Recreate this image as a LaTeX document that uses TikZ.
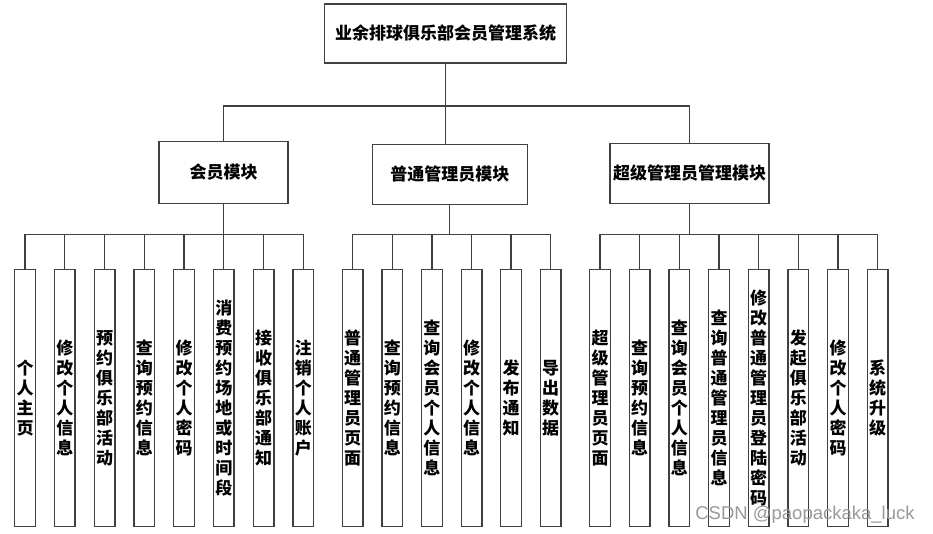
\documentclass[tikz,border=0pt]{standalone}
\usepackage{fontspec}
\setmainfont{Noto Sans CJK SC}
\newfontfamily\markfont{Liberation Sans}
\usetikzlibrary{positioning}

\tikzset{
  box/.style={draw=black!75, line width=1.3pt, align=center, inner sep=0pt,
    font=\fontsize{17}{20}\selectfont\bfseries},
  leaf/.style={box, minimum width=20.7pt, minimum height=257.4pt},
  link/.style={draw=black!75, line width=1.3pt}
}

\begin{document}
\begin{tikzpicture}[x=1pt,y=-1pt]
\useasboundingbox (0,0) rectangle (933,534);
% top levels
\node[box, minimum width=242.4pt, minimum height=59pt] (root) at (445.5,33.5) {业余排球俱乐部会员管理系统};
\node[box, minimum width=129pt, minimum height=61.6pt] (vip) at (223.5,172.5) {会员模块};
\node[box, minimum width=155pt, minimum height=60pt] (admin) at (449.8,174.3) {普通管理员模块};
\node[box, minimum width=159pt, minimum height=60pt] (super) at (689.5,173.3) {超级管理员管理模块};
\coordinate (topbus) at (445.5,106);
\coordinate (leafbus) at (0,234.5);
\draw[link] (root) -- (topbus);
\draw[link] (vip.north) |- (topbus) -| (super.north);
\draw[link] (topbus) -- (topbus |- admin.north);

% member leaves
\foreach \t [count=\i] in {{个\\人\\主\\页}, {修\\改\\个\\人\\信\\息}, {预\\约\\俱\\乐\\部\\活\\动},
  {查\\询\\预\\约\\信\\息}, {修\\改\\个\\人\\密\\码}, {消\\费\\预\\约\\场\\地\\或\\时\\间\\段},
  {接\\收\\俱\\乐\\部\\通\\知}, {注\\销\\个\\人\\账\\户}}
  \node[leaf] (v\i) at ({25+39.75*(\i-1)},398) {\t};
\draw[link] (vip.south) -- (vip.south |- leafbus);
\draw[link] (v1.north |- leafbus) -- (v8.north |- leafbus);
\foreach \i in {1,...,8} \draw[link] (v\i.north) -- (v\i.north |- leafbus);

% admin leaves
\foreach \t [count=\i] in {{普\\通\\管\\理\\员\\页\\面}, {查\\询\\预\\约\\信\\息},
  {查\\询\\会\\员\\个\\人\\信\\息}, {修\\改\\个\\人\\信\\息}, {发\\布\\通\\知}, {导\\出\\数\\据}}
  \node[leaf] (a\i) at ({352.7+39.6*(\i-1)},398) {\t};
\draw[link] (admin.south) -- (admin.south |- leafbus);
\draw[link] (a1.north |- leafbus) -- (a6.north |- leafbus);
\foreach \i in {1,...,6} \draw[link] (a\i.north) -- (a\i.north |- leafbus);

% super admin leaves
\foreach \t [count=\i] in {{超\\级\\管\\理\\员\\页\\面}, {查\\询\\预\\约\\信\\息},
  {查\\询\\会\\员\\个\\人\\信\\息}, {查\\询\\普\\通\\管\\理\\员\\信\\息},
  {修\\改\\普\\通\\管\\理\\员\\登\\陆\\密\\码}, {发\\起\\俱\\乐\\部\\活\\动},
  {修\\改\\个\\人\\密\\码}, {系\\统\\升\\级}}
  \node[leaf] (s\i) at ({600+39.67*(\i-1)},398) {\t};
\draw[link] (super.south) -- (super.south |- leafbus);
\draw[link] (s1.north |- leafbus) -- (s8.north |- leafbus);
\foreach \i in {1,...,8} \draw[link] (s\i.north) -- (s\i.north |- leafbus);

\node[text=black!40, font=\markfont\fontsize{18.5}{20}\selectfont] (mark) at (805,515) {CSDN @paopackaka\_luck};
\end{tikzpicture}
\end{document}
